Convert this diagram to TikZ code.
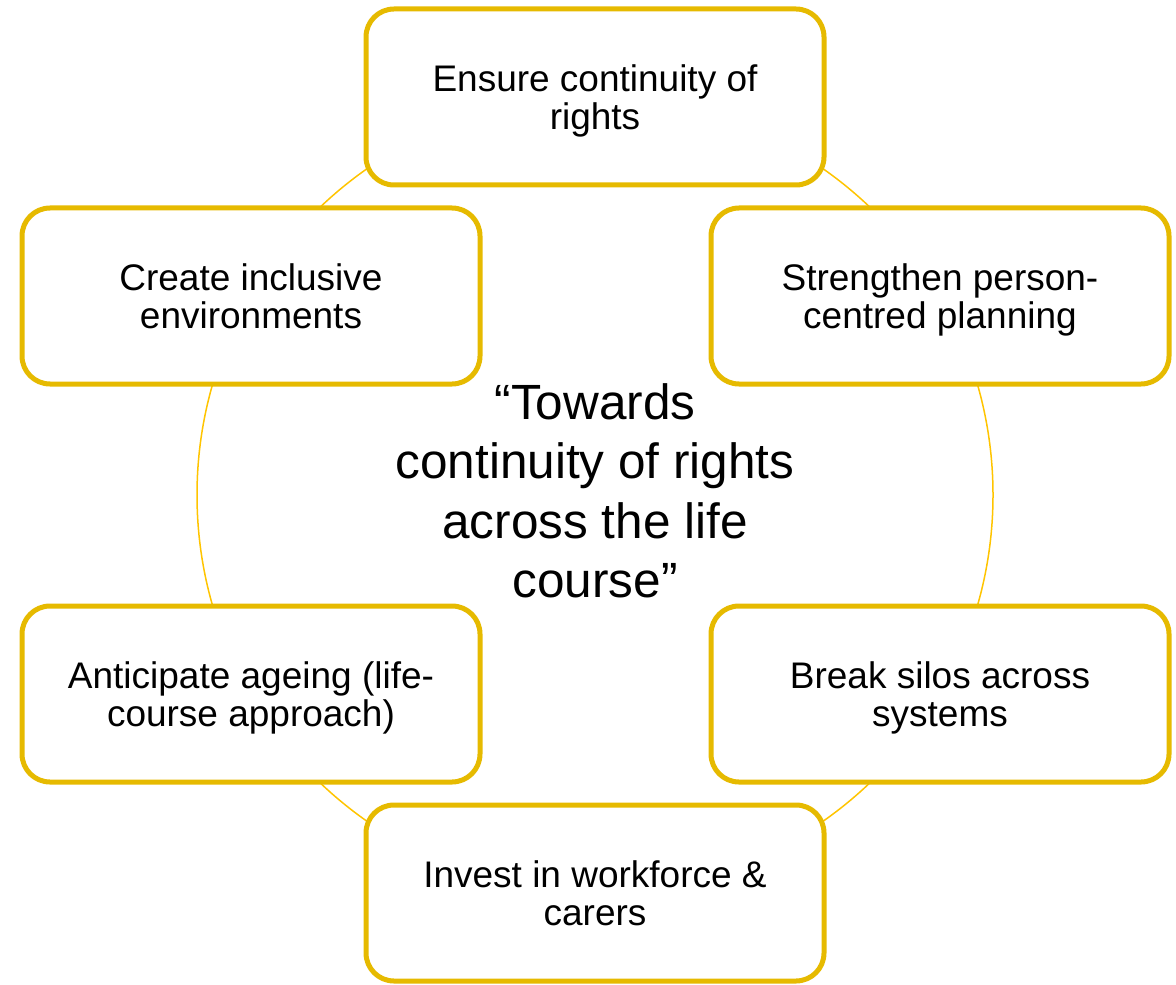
\documentclass[tikz,border=0pt]{standalone}
\usepackage{fontspec}
\setmainfont{Liberation Sans}
\usetikzlibrary{positioning}
\definecolor{boxgold}{RGB}{230,186,0}
\definecolor{ringgold}{RGB}{255,196,0}
\begin{document}
\begin{tikzpicture}[x=0.5pt, y=-0.5pt,
    aim/.style = {draw=boxgold, line width=2.5pt, fill=white, rounded corners=14pt,
                  minimum width=229pt, minimum height=88pt, align=center, text depth=0pt,
                  font=\fontsize{18.5pt}{19pt}\selectfont},
    ring/.style = {draw=ringgold, line width=0.75pt}]
  \useasboundingbox (0,0) rectangle (1176,984);
  \coordinate (c) at (595,495);
  \draw[ring] (c) circle (398);
  \node[aim] (rights) at (595,97) {Ensure continuity of\\rights};
  \node[aim] (planning) at (940,296) {Strengthen person-\\centred planning};
  \node[aim] (silos) at (940,694) {Break silos across\\systems};
  \node[aim] (workforce) at (595,893) {Invest in workforce \&\\carers};
  \node[aim] (ageing) at (251,694) {Anticipate ageing (life-\\course approach)};
  \node[aim] (environments) at (251,296) {Create inclusive\\environments};
  \node[align=center, font=\fontsize{24.75pt}{29.75pt}\selectfont] (goal) at (595,491)
    {“Towards\\continuity of rights\\across the life\\course”};
\end{tikzpicture}
\end{document}
